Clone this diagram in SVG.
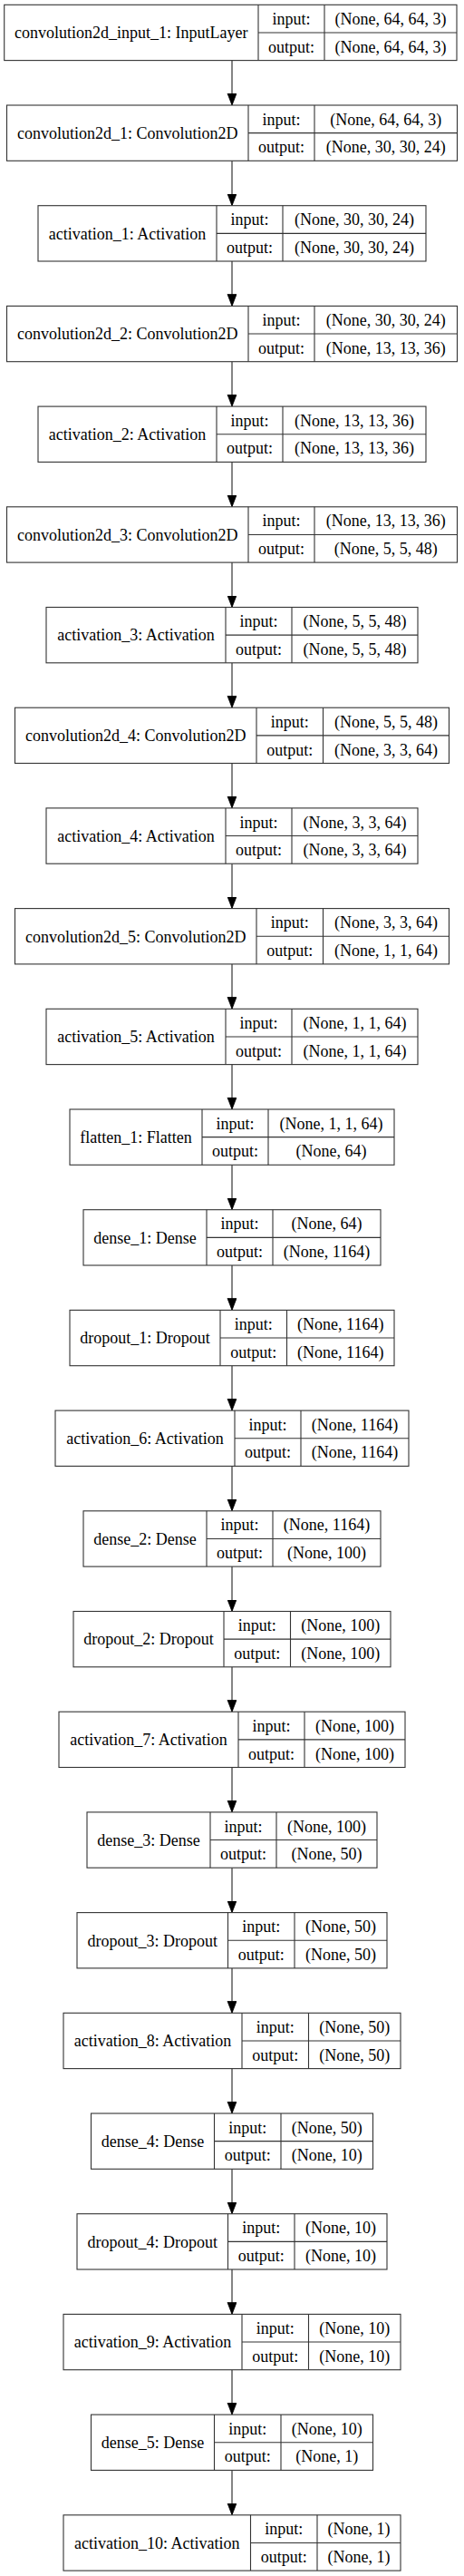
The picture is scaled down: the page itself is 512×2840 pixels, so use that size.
<svg xmlns="http://www.w3.org/2000/svg" width="512" height="2840" viewBox="0 0 512 2840">
<style>
.b{fill:#fff;stroke:#333;stroke-width:1.1}
.d{stroke:#333;stroke-width:1.1}
.t{font-family:"Liberation Serif","Times New Roman",serif;font-size:18px;fill:#000;text-anchor:middle}
.e{stroke:#333;stroke-width:1.2;fill:none;marker-end:url(#ah)}
</style>
<defs>
<marker id="ah" markerUnits="userSpaceOnUse" markerWidth="14" markerHeight="11" refX="13" refY="5" orient="auto" viewBox="0 0 14 11">
<path d="M0,0 L13,5 L0,10 Z" fill="#000" stroke="#000" stroke-width="0.8"/>
</marker>
</defs>
<rect width="512" height="2840" fill="#fff"/>
<g id="connectors">
<path class="e" d="M256,66.6 V116.0"/>
<path class="e" d="M256,177.3 V226.7"/>
<path class="e" d="M256,288.0 V337.4"/>
<path class="e" d="M256,398.7 V448.1"/>
<path class="e" d="M256,509.4 V558.8"/>
<path class="e" d="M256,620.1 V669.5"/>
<path class="e" d="M256,730.8 V780.2"/>
<path class="e" d="M256,841.5 V890.9"/>
<path class="e" d="M256,952.2 V1001.6"/>
<path class="e" d="M256,1062.9 V1112.3"/>
<path class="e" d="M256,1173.6 V1223.0"/>
<path class="e" d="M256,1284.3 V1333.7"/>
<path class="e" d="M256,1395.0 V1444.4"/>
<path class="e" d="M256,1505.7 V1555.1"/>
<path class="e" d="M256,1616.4 V1665.8"/>
<path class="e" d="M256,1727.1 V1776.5"/>
<path class="e" d="M256,1837.8 V1887.2"/>
<path class="e" d="M256,1948.5 V1997.9"/>
<path class="e" d="M256,2059.2 V2108.6"/>
<path class="e" d="M256,2169.9 V2219.3"/>
<path class="e" d="M256,2280.6 V2330.0"/>
<path class="e" d="M256,2391.3 V2440.7"/>
<path class="e" d="M256,2502.0 V2551.4"/>
<path class="e" d="M256,2612.7 V2662.1"/>
<path class="e" d="M256,2723.4 V2772.8"/>
</g>
<g id="n0"><rect class="b" x="4.7" y="5.3" width="499.3" height="61.3"/><path class="d" d="M285,5.3V66.6M358,5.3V66.6M285,35.95H504"/><text class="t" x="144.85" y="42.25">convolution2d_input_1: InputLayer</text><text class="t" x="321.5" y="26.9">input:</text><text class="t" x="431" y="26.9">(None, 64, 64, 3)</text><text class="t" x="321.5" y="57.6">output:</text><text class="t" x="431" y="57.6">(None, 64, 64, 3)</text></g>
<g id="n1"><rect class="b" x="7.5" y="116.0" width="497" height="61.3"/><path class="d" d="M274,116.0V177.3M347,116.0V177.3M274,146.65H504.5"/><text class="t" x="140.75" y="152.95">convolution2d_1: Convolution2D</text><text class="t" x="310.5" y="137.6">input:</text><text class="t" x="425.75" y="137.6">(None, 64, 64, 3)</text><text class="t" x="310.5" y="168.3">output:</text><text class="t" x="425.75" y="168.3">(None, 30, 30, 24)</text></g>
<g id="n2"><rect class="b" x="42" y="226.7" width="428" height="61.3"/><path class="d" d="M239,226.7V288.0M312,226.7V288.0M239,257.35H470"/><text class="t" x="140.5" y="263.65">activation_1: Activation</text><text class="t" x="275.5" y="248.3">input:</text><text class="t" x="391" y="248.3">(None, 30, 30, 24)</text><text class="t" x="275.5" y="279.0">output:</text><text class="t" x="391" y="279.0">(None, 30, 30, 24)</text></g>
<g id="n3"><rect class="b" x="7.5" y="337.4" width="497" height="61.3"/><path class="d" d="M274,337.4V398.7M347,337.4V398.7M274,368.05H504.5"/><text class="t" x="140.75" y="374.35">convolution2d_2: Convolution2D</text><text class="t" x="310.5" y="359.0">input:</text><text class="t" x="425.75" y="359.0">(None, 30, 30, 24)</text><text class="t" x="310.5" y="389.7">output:</text><text class="t" x="425.75" y="389.7">(None, 13, 13, 36)</text></g>
<g id="n4"><rect class="b" x="42" y="448.1" width="428" height="61.3"/><path class="d" d="M239,448.1V509.4M312,448.1V509.4M239,478.75H470"/><text class="t" x="140.5" y="485.05">activation_2: Activation</text><text class="t" x="275.5" y="469.7">input:</text><text class="t" x="391" y="469.7">(None, 13, 13, 36)</text><text class="t" x="275.5" y="500.4">output:</text><text class="t" x="391" y="500.4">(None, 13, 13, 36)</text></g>
<g id="n5"><rect class="b" x="7.5" y="558.8" width="497" height="61.3"/><path class="d" d="M274,558.8V620.1M347,558.8V620.1M274,589.45H504.5"/><text class="t" x="140.75" y="595.75">convolution2d_3: Convolution2D</text><text class="t" x="310.5" y="580.4">input:</text><text class="t" x="425.75" y="580.4">(None, 13, 13, 36)</text><text class="t" x="310.5" y="611.1">output:</text><text class="t" x="425.75" y="611.1">(None, 5, 5, 48)</text></g>
<g id="n6"><rect class="b" x="51" y="669.5" width="410" height="61.3"/><path class="d" d="M249,669.5V730.8M322,669.5V730.8M249,700.15H461"/><text class="t" x="150" y="706.45">activation_3: Activation</text><text class="t" x="285.5" y="691.1">input:</text><text class="t" x="391.5" y="691.1">(None, 5, 5, 48)</text><text class="t" x="285.5" y="721.8">output:</text><text class="t" x="391.5" y="721.8">(None, 5, 5, 48)</text></g>
<g id="n7"><rect class="b" x="16.5" y="780.2" width="479" height="61.3"/><path class="d" d="M283,780.2V841.5M356.5,780.2V841.5M283,810.85H495.5"/><text class="t" x="149.75" y="817.15">convolution2d_4: Convolution2D</text><text class="t" x="319.75" y="801.8">input:</text><text class="t" x="426" y="801.8">(None, 5, 5, 48)</text><text class="t" x="319.75" y="832.5">output:</text><text class="t" x="426" y="832.5">(None, 3, 3, 64)</text></g>
<g id="n8"><rect class="b" x="51" y="890.9" width="410" height="61.3"/><path class="d" d="M249,890.9V952.2M322,890.9V952.2M249,921.55H461"/><text class="t" x="150" y="927.85">activation_4: Activation</text><text class="t" x="285.5" y="912.5">input:</text><text class="t" x="391.5" y="912.5">(None, 3, 3, 64)</text><text class="t" x="285.5" y="943.2">output:</text><text class="t" x="391.5" y="943.2">(None, 3, 3, 64)</text></g>
<g id="n9"><rect class="b" x="16.5" y="1001.6" width="479" height="61.3"/><path class="d" d="M283,1001.6V1062.9M356.5,1001.6V1062.9M283,1032.25H495.5"/><text class="t" x="149.75" y="1038.55">convolution2d_5: Convolution2D</text><text class="t" x="319.75" y="1023.2">input:</text><text class="t" x="426" y="1023.2">(None, 3, 3, 64)</text><text class="t" x="319.75" y="1053.9">output:</text><text class="t" x="426" y="1053.9">(None, 1, 1, 64)</text></g>
<g id="n10"><rect class="b" x="51" y="1112.3" width="410" height="61.3"/><path class="d" d="M249,1112.3V1173.6M322,1112.3V1173.6M249,1142.95H461"/><text class="t" x="150" y="1149.25">activation_5: Activation</text><text class="t" x="285.5" y="1133.9">input:</text><text class="t" x="391.5" y="1133.9">(None, 1, 1, 64)</text><text class="t" x="285.5" y="1164.6">output:</text><text class="t" x="391.5" y="1164.6">(None, 1, 1, 64)</text></g>
<g id="n11"><rect class="b" x="77" y="1223.0" width="358" height="61.3"/><path class="d" d="M223,1223.0V1284.3M296,1223.0V1284.3M223,1253.65H435"/><text class="t" x="150" y="1259.95">flatten_1: Flatten</text><text class="t" x="259.5" y="1244.6">input:</text><text class="t" x="365.5" y="1244.6">(None, 1, 1, 64)</text><text class="t" x="259.5" y="1275.3">output:</text><text class="t" x="365.5" y="1275.3">(None, 64)</text></g>
<g id="n12"><rect class="b" x="92" y="1333.7" width="328" height="61.3"/><path class="d" d="M228,1333.7V1395.0M301,1333.7V1395.0M228,1364.35H420"/><text class="t" x="160" y="1370.65">dense_1: Dense</text><text class="t" x="264.5" y="1355.3">input:</text><text class="t" x="360.5" y="1355.3">(None, 64)</text><text class="t" x="264.5" y="1386.0">output:</text><text class="t" x="360.5" y="1386.0">(None, 1164)</text></g>
<g id="n13"><rect class="b" x="77" y="1444.4" width="358" height="61.3"/><path class="d" d="M243,1444.4V1505.7M316.5,1444.4V1505.7M243,1475.05H435"/><text class="t" x="160" y="1481.35">dropout_1: Dropout</text><text class="t" x="279.75" y="1466.0">input:</text><text class="t" x="375.75" y="1466.0">(None, 1164)</text><text class="t" x="279.75" y="1496.7">output:</text><text class="t" x="375.75" y="1496.7">(None, 1164)</text></g>
<g id="n14"><rect class="b" x="61" y="1555.1" width="390" height="61.3"/><path class="d" d="M259,1555.1V1616.4M332,1555.1V1616.4M259,1585.75H451"/><text class="t" x="160" y="1592.05">activation_6: Activation</text><text class="t" x="295.5" y="1576.7">input:</text><text class="t" x="391.5" y="1576.7">(None, 1164)</text><text class="t" x="295.5" y="1607.4">output:</text><text class="t" x="391.5" y="1607.4">(None, 1164)</text></g>
<g id="n15"><rect class="b" x="92" y="1665.8" width="328" height="61.3"/><path class="d" d="M228,1665.8V1727.1M301,1665.8V1727.1M228,1696.45H420"/><text class="t" x="160" y="1702.75">dense_2: Dense</text><text class="t" x="264.5" y="1687.4">input:</text><text class="t" x="360.5" y="1687.4">(None, 1164)</text><text class="t" x="264.5" y="1718.1">output:</text><text class="t" x="360.5" y="1718.1">(None, 100)</text></g>
<g id="n16"><rect class="b" x="81" y="1776.5" width="350" height="61.3"/><path class="d" d="M247,1776.5V1837.8M320.5,1776.5V1837.8M247,1807.15H431"/><text class="t" x="164" y="1813.45">dropout_2: Dropout</text><text class="t" x="283.75" y="1798.1">input:</text><text class="t" x="375.75" y="1798.1">(None, 100)</text><text class="t" x="283.75" y="1828.8">output:</text><text class="t" x="375.75" y="1828.8">(None, 100)</text></g>
<g id="n17"><rect class="b" x="65" y="1887.2" width="382" height="61.3"/><path class="d" d="M263,1887.2V1948.5M336,1887.2V1948.5M263,1917.85H447"/><text class="t" x="164" y="1924.15">activation_7: Activation</text><text class="t" x="299.5" y="1908.8">input:</text><text class="t" x="391.5" y="1908.8">(None, 100)</text><text class="t" x="299.5" y="1939.5">output:</text><text class="t" x="391.5" y="1939.5">(None, 100)</text></g>
<g id="n18"><rect class="b" x="96" y="1997.9" width="320" height="61.3"/><path class="d" d="M232,1997.9V2059.2M305,1997.9V2059.2M232,2028.55H416"/><text class="t" x="164" y="2034.85">dense_3: Dense</text><text class="t" x="268.5" y="2019.5">input:</text><text class="t" x="360.5" y="2019.5">(None, 100)</text><text class="t" x="268.5" y="2050.2">output:</text><text class="t" x="360.5" y="2050.2">(None, 50)</text></g>
<g id="n19"><rect class="b" x="85" y="2108.6" width="342" height="61.3"/><path class="d" d="M251.5,2108.6V2169.9M325,2108.6V2169.9M251.5,2139.25H427"/><text class="t" x="168.25" y="2145.55">dropout_3: Dropout</text><text class="t" x="288.25" y="2130.2">input:</text><text class="t" x="376" y="2130.2">(None, 50)</text><text class="t" x="288.25" y="2160.9">output:</text><text class="t" x="376" y="2160.9">(None, 50)</text></g>
<g id="n20"><rect class="b" x="70" y="2219.3" width="372" height="61.3"/><path class="d" d="M267,2219.3V2280.6M340.5,2219.3V2280.6M267,2249.95H442"/><text class="t" x="168.5" y="2256.25">activation_8: Activation</text><text class="t" x="303.75" y="2240.9">input:</text><text class="t" x="391.25" y="2240.9">(None, 50)</text><text class="t" x="303.75" y="2271.6">output:</text><text class="t" x="391.25" y="2271.6">(None, 50)</text></g>
<g id="n21"><rect class="b" x="100.5" y="2330.0" width="311" height="61.3"/><path class="d" d="M236.5,2330.0V2391.3M310,2330.0V2391.3M236.5,2360.65H411.5"/><text class="t" x="168.5" y="2366.95">dense_4: Dense</text><text class="t" x="273.25" y="2351.6">input:</text><text class="t" x="360.75" y="2351.6">(None, 50)</text><text class="t" x="273.25" y="2382.3">output:</text><text class="t" x="360.75" y="2382.3">(None, 10)</text></g>
<g id="n22"><rect class="b" x="85" y="2440.7" width="342" height="61.3"/><path class="d" d="M251.5,2440.7V2502.0M325,2440.7V2502.0M251.5,2471.35H427"/><text class="t" x="168.25" y="2477.65">dropout_4: Dropout</text><text class="t" x="288.25" y="2462.3">input:</text><text class="t" x="376" y="2462.3">(None, 10)</text><text class="t" x="288.25" y="2493.0">output:</text><text class="t" x="376" y="2493.0">(None, 10)</text></g>
<g id="n23"><rect class="b" x="70" y="2551.4" width="372" height="61.3"/><path class="d" d="M267,2551.4V2612.7M340.5,2551.4V2612.7M267,2582.05H442"/><text class="t" x="168.5" y="2588.35">activation_9: Activation</text><text class="t" x="303.75" y="2573.0">input:</text><text class="t" x="391.25" y="2573.0">(None, 10)</text><text class="t" x="303.75" y="2603.7">output:</text><text class="t" x="391.25" y="2603.7">(None, 10)</text></g>
<g id="n24"><rect class="b" x="100.5" y="2662.1" width="311" height="61.3"/><path class="d" d="M236.5,2662.1V2723.4M310,2662.1V2723.4M236.5,2692.75H411.5"/><text class="t" x="168.5" y="2699.05">dense_5: Dense</text><text class="t" x="273.25" y="2683.7">input:</text><text class="t" x="360.75" y="2683.7">(None, 10)</text><text class="t" x="273.25" y="2714.4">output:</text><text class="t" x="360.75" y="2714.4">(None, 1)</text></g>
<g id="n25"><rect class="b" x="70" y="2772.8" width="372" height="61.3"/><path class="d" d="M276.5,2772.8V2834.1M350,2772.8V2834.1M276.5,2803.45H442"/><text class="t" x="173.25" y="2809.75">activation_10: Activation</text><text class="t" x="313.25" y="2794.4">input:</text><text class="t" x="396" y="2794.4">(None, 1)</text><text class="t" x="313.25" y="2825.1">output:</text><text class="t" x="396" y="2825.1">(None, 1)</text></g>
</svg>
